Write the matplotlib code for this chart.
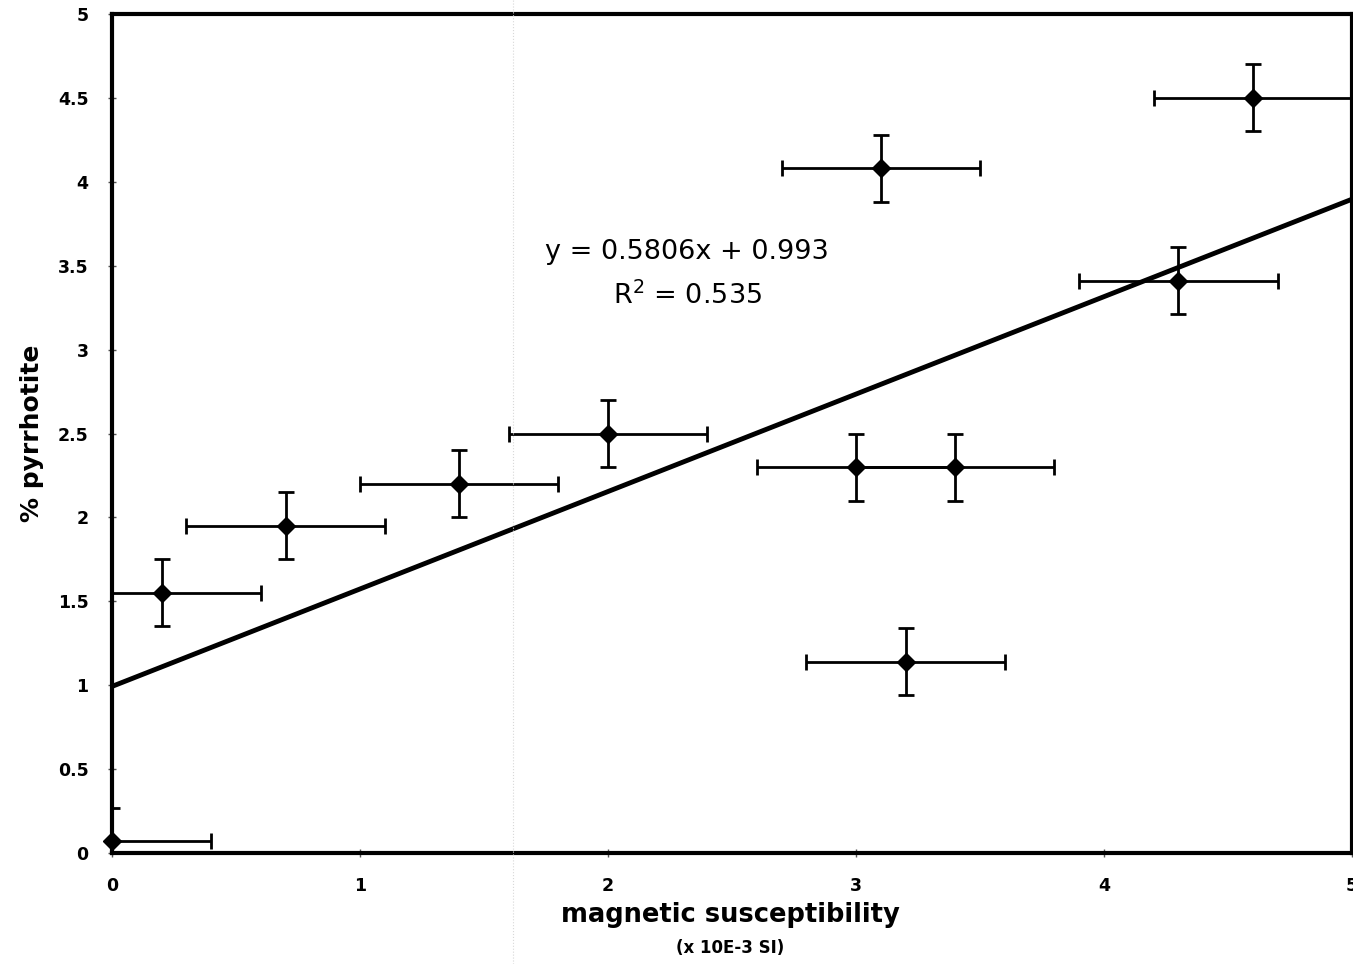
import matplotlib.pyplot as plt
from matplotlib.lines import Line2D

# magnetic susceptibility (x 10E-3 SI) vs % pyrrhotite
susceptibility = [0.0, 0.2, 0.7, 1.4, 2.0, 3.0, 3.4, 3.1, 3.2, 4.3, 4.6]
pyrrhotite = [0.07, 1.55, 1.95, 2.2, 2.5, 2.3, 2.3, 4.08, 1.14, 3.41, 4.5]
sus_err = 0.4
pyr_err = 0.2

# linear fit reported on the chart
slope = 0.5806
intercept = 0.993
r_squared = 0.535

ticks = [0, 0.5, 1, 1.5, 2, 2.5, 3, 3.5, 4, 4.5, 5]
xticks = [0, 1, 2, 3, 4, 5]


def main():
    fig = plt.figure(figsize=(13.53, 9.64), dpi=100)
    ax = fig.add_axes([0.0828, 0.1151, 0.9164, 0.8704])

    # error bars, clipped to the plot area
    ax.errorbar(susceptibility, pyrrhotite, xerr=sus_err, yerr=pyr_err,
                fmt='none', ecolor='black', elinewidth=2, capsize=6,
                capthick=2, zorder=3)
    ax.plot(susceptibility, pyrrhotite, 'D', color='black', markersize=9,
            clip_on=False, zorder=4)

    # trend line
    xs = [0, 5]
    ax.plot(xs, [slope * x + intercept for x in xs], color='black',
            linewidth=3.5, solid_capstyle='butt', zorder=2)

    ax.text(2.32, 3.58, 'y = %.4fx + %.3f' % (slope, intercept),
            ha='center', va='center', fontsize=19.5)
    ax.text(2.32, 3.32, 'R$^2$ = %.3f' % r_squared,
            ha='center', va='center', fontsize=19.5)

    ax.set_xlim(0, 5)
    ax.set_ylim(0, 5)
    ax.set_xticks(xticks)
    ax.set_yticks(ticks)
    ax.set_xticklabels([str(t) for t in xticks])
    ax.set_yticklabels(['%g' % t for t in ticks])
    ax.tick_params(direction='inout', length=6, width=1, color='#555555',
                   labelsize=12.5, pad=14)
    for lab in ax.get_xticklabels() + ax.get_yticklabels():
        lab.set_fontweight('bold')
    for sp in ax.spines.values():
        sp.set_linewidth(3)

    ax.set_ylabel('% pyrrhotite', fontsize=18, fontweight='bold', labelpad=10)
    fig.text(0.5395, 0.0508, 'magnetic susceptibility', ha='center',
             va='center', fontsize=18.5, fontweight='bold')
    fig.text(0.5395, 0.0166, '(x 10E-3 SI)', ha='center', va='center',
             fontsize=12, fontweight='bold')

    # faint fold line across the page
    fig.add_artist(Line2D([0.379, 0.379], [0, 1], transform=fig.transFigure,
                          color='#d8d8d8', linewidth=0.8, linestyle=':'))

    fig.savefig('out.png', dpi=100)


if __name__ == "__main__":
    main()
